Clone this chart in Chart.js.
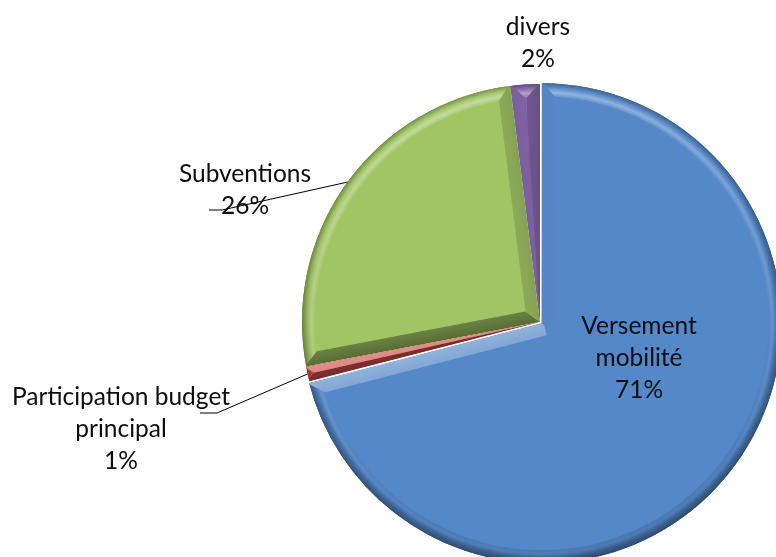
<!DOCTYPE html>
<html>
<head>
<meta charset="utf-8">
<script src="https://cdn.jsdelivr.net/npm/chart.js@4.4.0/dist/chart.umd.min.js"></script>
<style>
  html, body { margin: 0; padding: 0; background: #fff; overflow: hidden; }
</style>
</head>
<body>
<canvas id="recettesChart" width="776" height="557"></canvas>
<script>
//DATA
var sliceLabels = ["Versement mobilité", "Participation budget principal", "Subventions", "divers"];
var sliceShares = [71, 1, 26, 2];
var sliceColors = ["#5588c8", "#d0524e", "#a1c464", "#8466aa"];
var sliceOffsets = [8, 0, 0, 0];

//LAYOUT
// label centre x, first baseline, wrap width, and leader elbow for the outside ones
var labelLayout = [
  { x: 639, y: 334, wrap: 150 },
  { x: 121, y: 405, wrap: 250, elbow: [217, 413], tail: 200 },
  { x: 245, y: 182, wrap: 250, elbow: [222, 210], tail: 209 },
  { x: 538, y: 35, wrap: 200 }
];
var FONT = "24.5px Lato";
var LINE_H = 32;
var BEVEL = 13;
var LIGHT = (function () { var x = -0.2, y = -1, l = Math.hypot(x, y); return [x / l, y / l]; })();

//HELPERS
function rgbOf(hex) {
  var n = parseInt(hex.slice(1), 16);
  return [n >> 16 & 255, n >> 8 & 255, n & 255];
}

// k > 0 mixes towards white, k < 0 towards black
function shade(hex, k) {
  var c = rgbOf(hex), t = k > 0 ? 255 : 0, a = Math.min(Math.abs(k), 1);
  return "rgb(" + c.map(function (v) { return Math.round(v + (t - v) * a); }).join(",") + ")";
}

// same geometry ArcElement.draw uses (offset is applied at a quarter)
function arcGeom(el) {
  var t = (el.options.offset || 0) / 4, s = el.startAngle, e = el.endAngle, h = (s + e) / 2;
  return {
    cx: el.x + Math.cos(h) * t,
    cy: el.y + Math.sin(h) * t,
    r: el.outerRadius + t * (1 - Math.sin(Math.min(Math.PI, e - s))),
    s: s, e: e, h: h
  };
}

function sector(ctx, g, a0, a1) {
  ctx.beginPath();
  ctx.moveTo(g.cx, g.cy);
  ctx.arc(g.cx, g.cy, g.r, a0, a1);
  ctx.closePath();
}

function wrapText(ctx, text, maxW) {
  var words = text.split(" "), lines = [], cur = "";
  words.forEach(function (w) {
    var test = cur ? cur + " " + w : w;
    if (cur && ctx.measureText(test).width > maxW) { lines.push(cur); cur = w; }
    else cur = test;
  });
  if (cur) lines.push(cur);
  return lines;
}

// edge faces are steeper than the rim, so they read darker unless facing the light
function edgeShade(b) {
  return b > 0 ? 0.45 * b - 0.1 : 0.3 * b - 0.15;
}

//PLUGINS
// bevelled rim and edges on every slice
var bevelPlugin = {
  id: "bevel",
  afterDatasetsDraw: function (chart) {
    var ctx = chart.ctx;
    chart.getDatasetMeta(0).data.forEach(function (el, i) {
      var g = arcGeom(el), col = sliceColors[i];
      ctx.save();
      sector(ctx, g, g.s, g.e);
      ctx.clip();

      // outer rim, lit by its facing direction
      var step = Math.PI / 360;
      for (var a = g.s; a < g.e; a += step) {
        var a1 = Math.min(a + step * 1.6, g.e), am = a + step / 2;
        var b = Math.cos(am) * LIGHT[0] + Math.sin(am) * LIGHT[1];
        var grad = ctx.createRadialGradient(g.cx, g.cy, g.r - BEVEL, g.cx, g.cy, g.r);
        grad.addColorStop(0, shade(col, b * 0.12));
        grad.addColorStop(0.3, shade(col, 0.14 + b * 0.24));
        grad.addColorStop(0.62, shade(col, b * 0.2 - 0.12));
        grad.addColorStop(1, shade(col, b * 0.1 - 0.36));
        ctx.fillStyle = grad;
        ctx.beginPath();
        ctx.arc(g.cx, g.cy, g.r + 1, a, a1);
        ctx.arc(g.cx, g.cy, g.r - BEVEL, a1, a, true);
        ctx.closePath();
        ctx.fill();
      }

      // the two straight edges, mitred against the rim
      [[g.s, 1], [g.e, -1]].forEach(function (ed) {
        var a = ed[0], sign = ed[1];
        var u = [Math.cos(a), Math.sin(a)];
        var v = [-Math.sin(a) * sign, Math.cos(a) * sign];
        var b = -(v[0] * LIGHT[0] + v[1] * LIGHT[1]);
        var k = edgeShade(b);
        var along = Math.sqrt(Math.max(0, (g.r - BEVEL) * (g.r - BEVEL) - BEVEL * BEVEL));
        ctx.save();
        if (sign > 0) sector(ctx, g, g.s, g.h); else sector(ctx, g, g.h, g.e);
        ctx.clip();
        ctx.beginPath();
        ctx.moveTo(g.cx - 2 * u[0], g.cy - 2 * u[1]);
        ctx.lineTo(g.cx + (g.r + 2) * u[0], g.cy + (g.r + 2) * u[1]);
        ctx.lineTo(g.cx + along * u[0] + BEVEL * v[0], g.cy + along * u[1] + BEVEL * v[1]);
        ctx.lineTo(g.cx + BEVEL * v[0] - 2 * u[0], g.cy + BEVEL * v[1] - 2 * u[1]);
        ctx.closePath();
        var lg = ctx.createLinearGradient(g.cx, g.cy, g.cx + BEVEL * v[0], g.cy + BEVEL * v[1]);
        lg.addColorStop(0, shade(col, k));
        lg.addColorStop(1, shade(col, k * 0.75));
        ctx.fillStyle = lg;
        ctx.fill();
        ctx.restore();
      });
      ctx.restore();
    });
  }
};

// category name + percentage, with leader lines for the outside labels
var labelPlugin = {
  id: "sliceLabels",
  afterDraw: function (chart) {
    var ctx = chart.ctx, arcs = chart.getDatasetMeta(0).data;
    var total = sliceShares.reduce(function (s, v) { return s + v; }, 0);
    ctx.save();
    ctx.font = FONT;
    ctx.fillStyle = "#0d0d0d";
    ctx.strokeStyle = "#000";
    ctx.lineWidth = 1;
    ctx.textAlign = "center";
    labelLayout.forEach(function (lay, i) {
      var lines = wrapText(ctx, sliceLabels[i], lay.wrap);
      lines.push(Math.round(sliceShares[i] / total * 100) + "%");
      lines.forEach(function (t, k) { ctx.fillText(t, lay.x, lay.y + k * LINE_H); });
      if (lay.elbow) {
        var g = arcGeom(arcs[i]);
        ctx.beginPath();
        ctx.moveTo(g.cx + Math.cos(g.h) * g.r, g.cy + Math.sin(g.h) * g.r);
        ctx.lineTo(lay.elbow[0], lay.elbow[1]);
        ctx.lineTo(lay.tail, lay.elbow[1]);
        ctx.stroke();
      }
    });
    ctx.restore();
  }
};

//CHART
var ctx = document.getElementById("recettesChart").getContext("2d");
var recettesChart = new Chart(ctx, {
  type: "pie",
  data: {
    labels: sliceLabels,
    datasets: [{
      data: sliceShares,
      backgroundColor: sliceColors,
      borderWidth: 0,
      offset: sliceOffsets,
      radius: 238,
      clip: false
    }]
  },
  options: {
    responsive: false,
    animation: false,
    events: [],
    layout: { padding: { left: 304, right: 0, top: 87, bottom: 0 } },
    plugins: {
      legend: { display: false },
      tooltip: { enabled: false }
    }
  },
  plugins: [bevelPlugin, labelPlugin]
});
</script>
</body>
</html>
